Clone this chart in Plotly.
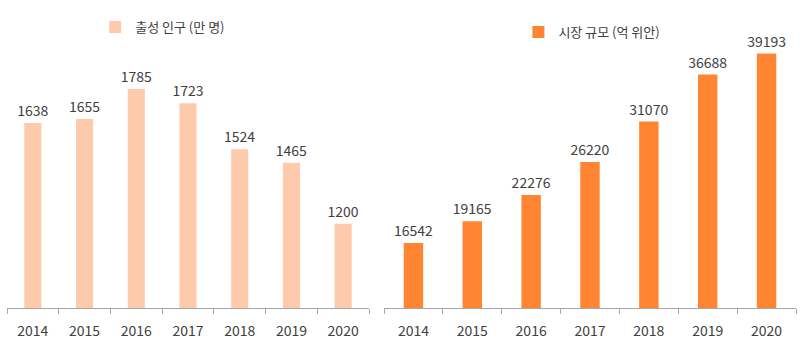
import plotly.graph_objects as go

years = ["2014", "2015", "2016", "2017", "2018", "2019", "2020"]
births = [1638, 1655, 1785, 1723, 1524, 1465, 1200]
market = [16542, 19165, 22276, 26220, 31070, 36688, 39193]
births_name = "출성 인구 (만 명)"
market_name = "시장 규모 (억 위안)"

FONT = "Noto Sans CJK KR, Noto Sans, sans-serif"
TXT = "#404040"
LINE = "#A6A6A6"

fig = go.Figure()
fig.add_trace(go.Bar(
    x=years, y=births, name=births_name, xaxis="x", yaxis="y",
    marker=dict(color="#FDCBAB", line=dict(width=0)),
    text=births, textposition="outside", cliponaxis=False, constraintext="none",
    textfont=dict(size=14, color=TXT, family=FONT),
    legend="legend", showlegend=True,
))
fig.add_trace(go.Bar(
    x=years, y=market, name=market_name, xaxis="x2", yaxis="y2",
    marker=dict(color="#FF8533", line=dict(width=0)),
    text=market, textposition="outside", cliponaxis=False, constraintext="none",
    textfont=dict(size=14, color=TXT, family=FONT),
    legend="legend2", showlegend=True,
))

ydom = [0.1072, 0.884]
xaxis_common = dict(
    showline=True, linecolor=LINE, linewidth=1,
    ticks="outside", tickson="boundaries", ticklen=5, tickcolor=LINE,
    tickfont=dict(size=14, color=TXT, family=FONT),
    ticklabelstandoff=10, showgrid=False, zeroline=False, fixedrange=True,
)
fig.update_layout(
    width=800, height=345,
    margin=dict(l=0, r=0, t=0, b=0),
    paper_bgcolor="white", plot_bgcolor="white",
    bargap=0.67, showlegend=True,
    font=dict(family=FONT, color=TXT),
    xaxis=dict(domain=[0.00875, 0.46125], anchor="y", **xaxis_common),
    xaxis2=dict(domain=[0.48, 0.995], anchor="y2", **xaxis_common),
    yaxis=dict(domain=ydom, anchor="x", range=[834, 1998], visible=False),
    yaxis2=dict(domain=ydom, anchor="x2", range=[8781, 40815], visible=False),
    legend=dict(x=0.119, y=1 - 27 / 345, xanchor="left", yanchor="middle",
                font=dict(size=13, color=TXT, family=FONT), bgcolor="rgba(0,0,0,0)"),
    legend2=dict(x=0.648, y=1 - 32 / 345, xanchor="left", yanchor="middle",
                 font=dict(size=13, color=TXT, family=FONT), bgcolor="rgba(0,0,0,0)"),
)

fig.write_html("out.html")
